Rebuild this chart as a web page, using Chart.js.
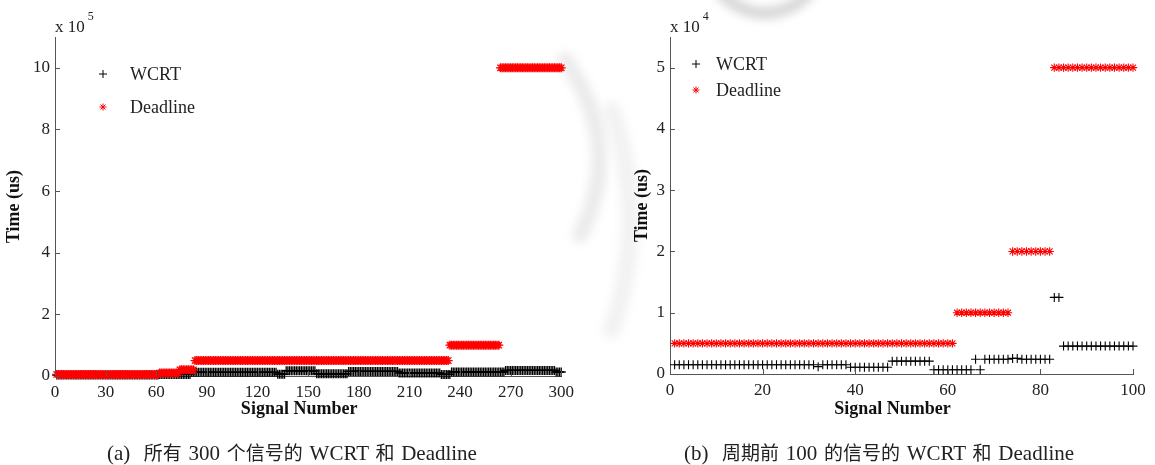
<!DOCTYPE html>
<html>
<head>
<meta charset="utf-8">
<script src="https://cdn.jsdelivr.net/npm/chart.js@4.4.1/dist/chart.umd.min.js"></script>
<style>
  body { margin: 0; background: #fff; }
  #wrap { position: relative; width: 1155px; height: 465px; overflow: hidden; }
  #bg { position: absolute; left: 0; top: 0; }
  .box { position: absolute; top: 0; height: 420px; }
  .caption { position: absolute; top: 438px; font-family: "Liberation Serif", "Noto Sans CJK SC", serif; font-size: 21px; word-spacing: 1.5px; color: #222; white-space: pre; }
  .caption .cjk { font-size: 19px; }
</style>
</head>
<body>
<div id="wrap">
  <canvas id="bg" width="1155" height="465"></canvas>
  <div class="box" style="left:0;width:580px"><canvas id="chartA"></canvas></div>
  <div class="box" style="left:580px;width:575px"><canvas id="chartB"></canvas></div>
  <div class="caption" style="left:107px">(a)  <span class="cjk">所有</span> 300 <span class="cjk">个信号的</span> WCRT <span class="cjk">和</span> Deadline</div>
  <div class="caption" style="left:684px">(b)  <span class="cjk">周期前</span> 100 <span class="cjk">的信号的</span> WCRT <span class="cjk">和</span> Deadline</div>
</div>
<script>
// ---- datos (us) : [desde, hasta, valor] por tramos de señales ----
const allXTicks = [0, 30, 60, 90, 120, 150, 180, 210, 240, 270, 300];
const allYTicks = [0, 200000, 400000, 600000, 800000, 1000000];
const allDeadline = [
  [1, 61, 5000], [62, 73, 10000], [74, 82, 20000],
  [83, 233, 50000], [234, 263, 100000], [264, 300, 1000000]
];
const allWcrt = [
  [1, 61, 3000], [62, 80, 5000], [81, 131, 12000], [132, 136, 6000],
  [137, 154, 17000], [155, 173, 7000], [174, 203, 15000], [204, 228, 10000],
  [229, 234, 5000], [235, 266, 13000], [267, 296, 18000], [297, 300, 13000]
];

const topXTicks = [0, 20, 40, 60, 80, 100];
const topYTicks = [0, 10000, 20000, 30000, 40000, 50000];
const topDeadline = [[1, 61, 5000], [62, 73, 10000], [74, 82, 20000], [83, 100, 50000]];
const topWcrt = [
  [1, 31, 1500], [32, 32, 1200], [33, 38, 1500], [39, 47, 1100], [48, 56, 2100],
  [57, 65, 700], [66, 66, 2400], [67, 67, 700], [68, 73, 2400], [74, 75, 2550],
  [76, 82, 2400], [83, 84, 12500], [85, 100, 4550]
];

function expandRuns(runs) {
    const pts = [];
    runs.forEach(([from, to, v]) => {
        for (let n = from; n <= to; n++) pts.push({ x: n, y: v });
    });
    return pts;
}

// marca de agua de fondo
(function () {
    const c = document.getElementById('bg').getContext('2d');
    c.filter = 'blur(5px)';
    c.lineCap = 'round';
    c.strokeStyle = 'rgba(0,0,0,0.16)';
    c.lineWidth = 12;
    c.beginPath(); c.arc(765, -45, 58, 0.2 * Math.PI, 0.85 * Math.PI); c.stroke();
    c.strokeStyle = 'rgba(0,0,0,0.08)';
    c.lineWidth = 16;
    c.beginPath(); c.moveTo(565, 60); c.quadraticCurveTo(625, 145, 580, 235); c.stroke();
    c.strokeStyle = 'rgba(0,0,0,0.05)';
    c.lineWidth = 18;
    c.beginPath(); c.moveTo(612, 110); c.quadraticCurveTo(648, 220, 612, 330); c.stroke();
})();

const SERIF = '"Liberation Serif", "Times New Roman", serif';
const AXIS_COLOR = '#555';

// ticks hacia dentro, exponente y leyenda estilo MATLAB
const matlabAxes = {
    id: 'matlabAxes',
    afterDraw(chart, args, opts) {
        const { ctx, chartArea: a, scales: { x, y } } = chart;
        ctx.save();
        ctx.strokeStyle = AXIS_COLOR;
        ctx.lineWidth = 1;
        ctx.beginPath();
        x.ticks.forEach(t => {
            const px = Math.round(x.getPixelForValue(t.value)) + 0.5;
            ctx.moveTo(px, a.bottom); ctx.lineTo(px, a.bottom - 5);
        });
        y.ticks.forEach(t => {
            const py = Math.round(y.getPixelForValue(t.value)) + 0.5;
            ctx.moveTo(a.left, py); ctx.lineTo(a.left + 5, py);
        });
        ctx.stroke();

        ctx.fillStyle = '#222';
        ctx.font = '17px ' + SERIF;
        ctx.fillText('x 10', a.left, a.top - 5);
        const w = ctx.measureText('x 10').width;
        ctx.font = '12px ' + SERIF;
        ctx.fillText(opts.exp, a.left + w + 3, a.top - 17);

        // leyenda
        const items = [
            { text: 'WCRT', style: 'cross', color: '#000', r: 4, dy: opts.legendY[0] },
            { text: 'Deadline', style: 'star', color: '#ff0000', r: 3.5, dy: opts.legendY[1] }
        ];
        ctx.font = '18px ' + SERIF;
        ctx.textBaseline = 'middle';
        items.forEach(it => {
            const mx = a.left + opts.legendX, my = a.top + it.dy;
            ctx.strokeStyle = it.color; ctx.fillStyle = it.color; ctx.lineWidth = 1;
            Chart.helpers.drawPoint(ctx, { pointStyle: it.style, radius: it.r, rotation: 0, borderWidth: 1 }, mx, my);
            ctx.fillStyle = '#222';
            ctx.fillText(it.text, mx + opts.textGap, my + 1);
        });
        ctx.restore();
    }
};

function buildChart(id, cfg) {
    const tickFont = { family: SERIF, size: 17 };
    const titleFont = { family: SERIF, size: 18, weight: 'bold' };
    return new Chart(document.getElementById(id), {
        type: 'scatter',
        data: {
            datasets: [
                {
                    label: 'WCRT', data: expandRuns(cfg.wcrt), order: 1,
                    pointStyle: 'cross', pointRadius: cfg.crossR, pointBorderWidth: cfg.markW,
                    borderColor: '#000', backgroundColor: '#000', clip: false
                },
                {
                    label: 'Deadline', data: expandRuns(cfg.deadline), order: 0,
                    pointStyle: 'star', pointRadius: cfg.starR, pointBorderWidth: cfg.markW,
                    borderColor: '#ff0000', backgroundColor: '#ff0000', clip: false
                }
            ]
        },
        options: {
            responsive: true, maintainAspectRatio: false,
            animation: false, events: [],
            layout: { padding: { top: 37, right: cfg.padRight, left: 0, bottom: 0 } },
            plugins: {
                legend: { display: false }, tooltip: { enabled: false },
                matlabAxes: { exp: cfg.exp, legendX: cfg.legendX, legendY: cfg.legendY, textGap: cfg.textGap }
            },
            scales: {
                x: {
                    type: 'linear', min: 0, max: cfg.xMax,
                    afterBuildTicks: s => { s.ticks = cfg.xTicks.map(v => ({ value: v })); },
                    afterFit: s => { s.height = cfg.xHeight; },
                    grid: { display: false, drawTicks: false },
                    border: { display: true, color: AXIS_COLOR, width: 1 },
                    ticks: { color: '#222', font: tickFont, padding: 6, maxRotation: 0, autoSkip: false },
                    title: { display: true, text: 'Signal Number    ', color: '#111', font: titleFont, padding: { top: 0, bottom: 0 } }
                },
                y: {
                    type: 'linear', min: 0, max: cfg.yMax,
                    afterBuildTicks: s => { s.ticks = cfg.yTicks.map(v => ({ value: v })); },
                    afterFit: s => { s.width = cfg.yWidth; },
                    grid: { display: false, drawTicks: false },
                    border: { display: true, color: AXIS_COLOR, width: 1 },
                    ticks: { color: '#222', font: tickFont, padding: 5, callback: v => v / cfg.unit },
                    title: { display: true, text: 'Time (us)', color: '#111', font: titleFont, padding: { top: cfg.yTitlePad, bottom: cfg.yTitlePad } }
                }
            }
        },
        plugins: [matlabAxes]
    });
}

buildChart('chartA', {
    wcrt: allWcrt, deadline: allDeadline,
    xTicks: allXTicks, yTicks: allYTicks, xMax: 300, yMax: 1100000, unit: 100000,
    exp: '5', padRight: 15, xHeight: 44, yWidth: 55, yTitlePad: 4,
    legendX: 48, legendY: [37, 70], textGap: 27,
    crossR: 4.5, starR: 4.5, markW: 1.3
});

buildChart('chartB', {
    wcrt: topWcrt, deadline: topDeadline,
    xTicks: topXTicks, yTicks: topYTicks, xMax: 100, yMax: 55000, unit: 10000,
    exp: '4', padRight: 22, xHeight: 46, yWidth: 90, yTitlePad: 52,
    legendX: 26, legendY: [27, 53], textGap: 20,
    crossR: 4.5, starR: 4.2, markW: 1.1
});
</script>
</body>
</html>
